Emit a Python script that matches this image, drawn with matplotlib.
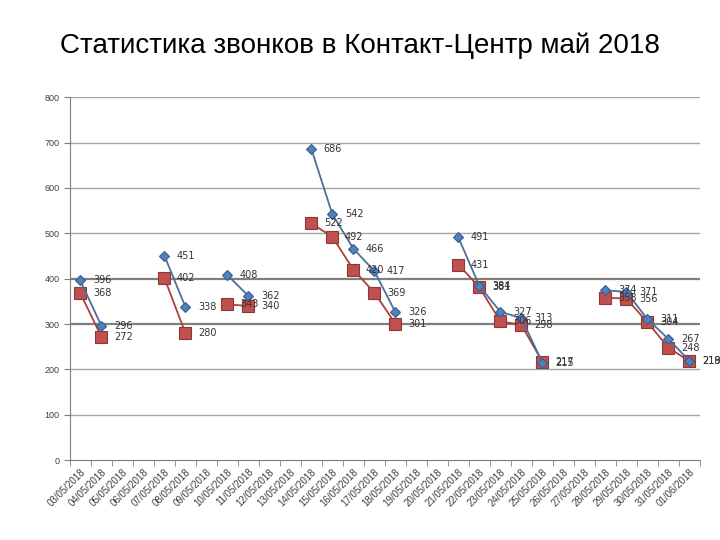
import numpy as np
import matplotlib.pyplot as plt

plt.rcParams['font.family'] = ['Liberation Sans', 'DejaVu Sans']

nan = np.nan
dates = ['03/05/2018', '04/05/2018', '05/05/2018', '06/05/2018', '07/05/2018',
         '08/05/2018', '09/05/2018', '10/05/2018', '11/05/2018', '12/05/2018',
         '13/05/2018', '14/05/2018', '15/05/2018', '16/05/2018', '17/05/2018',
         '18/05/2018', '19/05/2018', '20/05/2018', '21/05/2018', '22/05/2018',
         '23/05/2018', '24/05/2018', '25/05/2018', '26/05/2018', '27/05/2018',
         '28/05/2018', '29/05/2018', '30/05/2018', '31/05/2018', '01/06/2018']

incoming = [396, 296, nan, nan, 451, 338, nan, 408, 362, nan,
            nan, 686, 542, 466, 417, 326, nan, nan, 491, 384,
            327, 313, 215, nan, nan, 374, 371, 311, 267, 219]
answered = [368, 272, nan, nan, 402, 280, nan, 343, 340, nan,
            nan, 522, 492, 420, 369, 301, nan, nan, 431, 381,
            306, 298, 217, nan, nan, 358, 356, 304, 248, 218]

yticks = [0, 100, 200, 300, 400, 500, 600, 700, 800]

fig = plt.figure(figsize=(7.2, 5.4), dpi=100)
ax = fig.add_axes([0.097, 0.148, 0.875, 0.672])

x = np.arange(len(dates))

# сетка: линии 300 и 400 темнее, как на исходнике
for v in yticks[1:]:
    c = '#7f7f7f' if v in (300, 400) else '#a6a6a6'
    lw = 1.6 if v in (300, 400) else 1.0
    ax.axhline(v, color=c, lw=lw, zorder=0)

ax.plot(x, answered, color='#a9413e', lw=1.3, marker='s', ms=8,
        mfc='#c0504d', mec='#8c3836', mew=0.8, zorder=3)
ax.plot(x, incoming, color='#4a6f9c', lw=1.3, marker='D', ms=5,
        mfc='#4f81bd', mec='#385d8a', mew=0.8, zorder=4)

for series in (incoming, answered):
    for xi, v in zip(x, series):
        if not np.isnan(v):
            ax.annotate(str(int(v)), (xi, v), xytext=(9, 0), textcoords='offset points',
                        va='center', ha='left', fontsize=7, color='#333333',
                        family='DejaVu Sans', zorder=5)

ax.set_xlim(-0.5, len(dates) - 0.5)
ax.set_ylim(0, 800)
ax.set_yticks(yticks)
ax.set_yticklabels([str(v) for v in yticks], fontsize=6.5, color='#404040')
ax.set_xticks(x)
ax.set_xticklabels(dates, rotation=45, ha='right', rotation_mode='anchor',
                   fontsize=7, color='#404040')
ax.set_xticks(np.arange(len(dates) + 1) - 0.5, minor=True)
ax.tick_params(axis='x', which='major', length=0, pad=5)
ax.tick_params(axis='x', which='minor', length=4, color='#7f7f7f', direction='out')
ax.tick_params(axis='y', length=4, color='#7f7f7f', direction='out')

for s in ['top', 'right']:
    ax.spines[s].set_visible(False)
ax.spines['left'].set_color('#7f7f7f')
ax.spines['bottom'].set_color('#7f7f7f')

fig.text(0.5, 0.915, 'Статистика звонков в Контакт-Центр май 2018',
         ha='center', va='center', fontsize=20)

fig.savefig('out.png', dpi=100)
